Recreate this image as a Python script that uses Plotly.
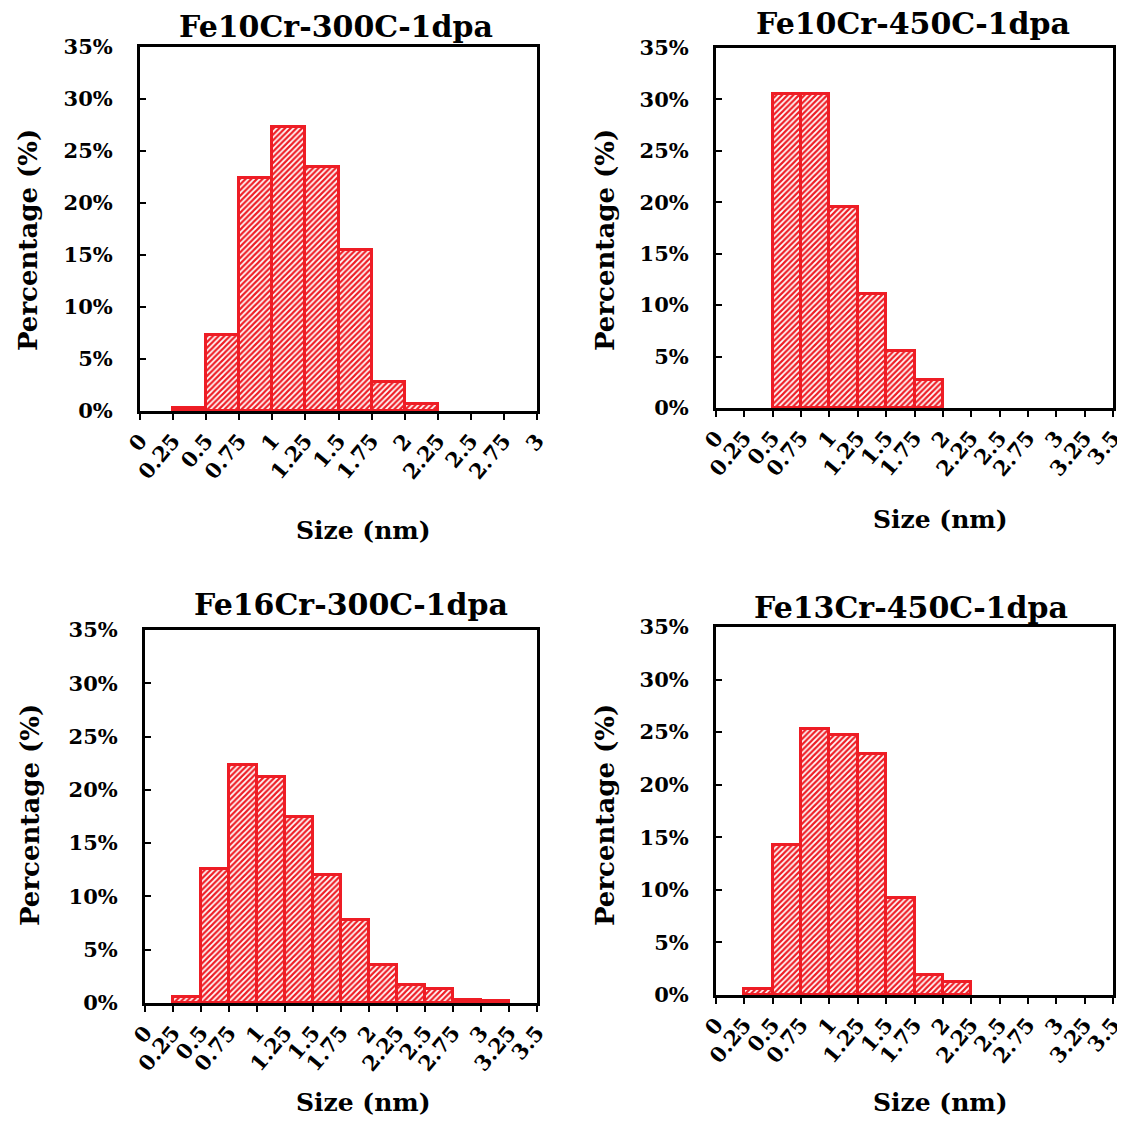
import plotly.graph_objects as go

# ---- data ----
bin_left = [0.0, 0.25, 0.5, 0.75, 1.0, 1.25, 1.5, 1.75, 2.0, 2.25, 2.5, 2.75, 3.0, 3.25]
bin_width = 0.25

titles = ["Fe10Cr-300C-1dpa", "Fe10Cr-450C-1dpa", "Fe16Cr-300C-1dpa", "Fe13Cr-450C-1dpa"]

pct_fe10cr_300 = [0, 0.3, 7.3, 22.4, 27.3, 23.5, 15.5, 2.8, 0.7, 0, 0, 0, 0, 0]
pct_fe10cr_450 = [0, 0, 30.5, 30.5, 19.5, 11.1, 5.5, 2.75, 0, 0, 0, 0, 0, 0]
pct_fe16cr_300 = [0, 0.6, 12.6, 22.3, 21.2, 17.5, 12.0, 7.75, 3.6, 1.65, 1.3, 0.3, 0.15, 0]
pct_fe13cr_450 = [0, 0.55, 14.3, 25.3, 24.7, 22.9, 9.25, 1.9, 1.2, 0, 0, 0, 0, 0]

x_max = [3.0, 3.5, 3.5, 3.5]
x_tick_vals = [0, 0.25, 0.5, 0.75, 1, 1.25, 1.5, 1.75, 2, 2.25, 2.5, 2.75, 3, 3.25, 3.5]
x_tick_text = ["0", "0.25", "0.5", "0.75", "1", "1.25", "1.5", "1.75", "2", "2.25",
               "2.5", "2.75", "3", "3.25", "3.5"]
y_tick_vals = [0, 5, 10, 15, 20, 25, 30, 35]
y_tick_text = ["0%", "5%", "10%", "15%", "20%", "25%", "30%", "35%"]

series = [pct_fe10cr_300, pct_fe10cr_450, pct_fe16cr_300, pct_fe13cr_450]

# ---- layout geometry (page pixels; the page body has an 8px margin) ----
OFF = 8
W, H = 1125 - 2 * OFF, 1126 - 2 * OFF


def px(x):
    return (x - OFF) / W


def py(y):
    return 1 - (y - OFF) / H


frames = [  # x0, x1, ytop, ybottom
    (140, 537, 47, 411),
    (716, 1113, 48, 408),
    (145, 537, 630, 1003),
    (716, 1113, 627, 995),
]
title_pos = [(336, 26), (913, 24), (351, 604), (911, 607)]
xtitle_pos = [(363, 530), (940, 520), (363, 1102), (940, 1102)]
ytitle_pos = [(28, 240), (605, 240), (30, 815), (605, 815)]

RED = "#ee1d25"
FONT = "DejaVu Serif"

fig = go.Figure()

for i, vals in enumerate(series):
    n = "" if i == 0 else str(i + 1)
    xs = [b for b, v in zip(bin_left, vals) if b < x_max[i] and v > 0]
    ys = [v for b, v in zip(bin_left, vals) if b < x_max[i] and v > 0]
    fig.add_trace(go.Bar(
        x=xs, y=ys, width=bin_width, offset=0,
        xaxis="x" + n, yaxis="y" + n,
        marker=dict(color="white", line=dict(color=RED, width=3),
                    pattern=dict(shape="/", fgcolor=RED, bgcolor="white",
                                 size=4, solidity=0.55, fillmode="replace")),
        showlegend=False,
    ))
    x0, x1, yt, yb = frames[i]
    tv = [t for t in x_tick_vals if t <= x_max[i] + 1e-9]
    tt = x_tick_text[:len(tv)]
    fig.layout["xaxis" + n] = dict(
        domain=[px(x0), px(x1)], anchor="y" + n, range=[0, x_max[i]],
        tickvals=tv, ticktext=tt, tickangle=-50, ticks="outside", ticklen=6,
        tickwidth=2, tickcolor="black", showline=True, linecolor="black",
        linewidth=3, mirror=True, showgrid=False, zeroline=False, automargin=False,
        ticklabeloverflow="allow",
        tickfont=dict(family=FONT, size=21, color="black", weight="bold"),
    )
    fig.layout["yaxis" + n] = dict(
        domain=[py(yb), py(yt)], anchor="x" + n, range=[0, 35],
        tickvals=y_tick_vals, ticktext=y_tick_text, ticks="inside", ticklen=6,
        tickwidth=2, tickcolor="black", showline=True, linecolor="black",
        linewidth=3, mirror=True, showgrid=False, zeroline=False, automargin=False,
        ticklabelstandoff=20, ticklabeloverflow="allow",
        tickfont=dict(family=FONT, size=21, color="black", weight="bold"),
    )
    tx, ty = title_pos[i]
    fig.add_annotation(text="<b>" + titles[i] + "</b>", x=px(tx), y=py(ty),
                       xref="paper", yref="paper", showarrow=False,
                       xanchor="center", yanchor="middle",
                       font=dict(family=FONT, size=30, color="black"))
    ax, ay = xtitle_pos[i]
    fig.add_annotation(text="<b>Size (nm)</b>", x=px(ax), y=py(ay),
                       xref="paper", yref="paper", showarrow=False,
                       xanchor="center", yanchor="middle",
                       font=dict(family=FONT, size=25, color="black"))
    qx, qy = ytitle_pos[i]
    fig.add_annotation(text="<b>Percentage (%)</b>", x=px(qx), y=py(qy),
                       xref="paper", yref="paper", showarrow=False, textangle=-90,
                       xanchor="center", yanchor="middle",
                       font=dict(family=FONT, size=26, color="black"))

fig.update_layout(
    width=W, height=H, margin=dict(l=0, r=0, t=0, b=0),
    paper_bgcolor="white", plot_bgcolor="white", bargap=0,
)

fig.write_html("out.html")
